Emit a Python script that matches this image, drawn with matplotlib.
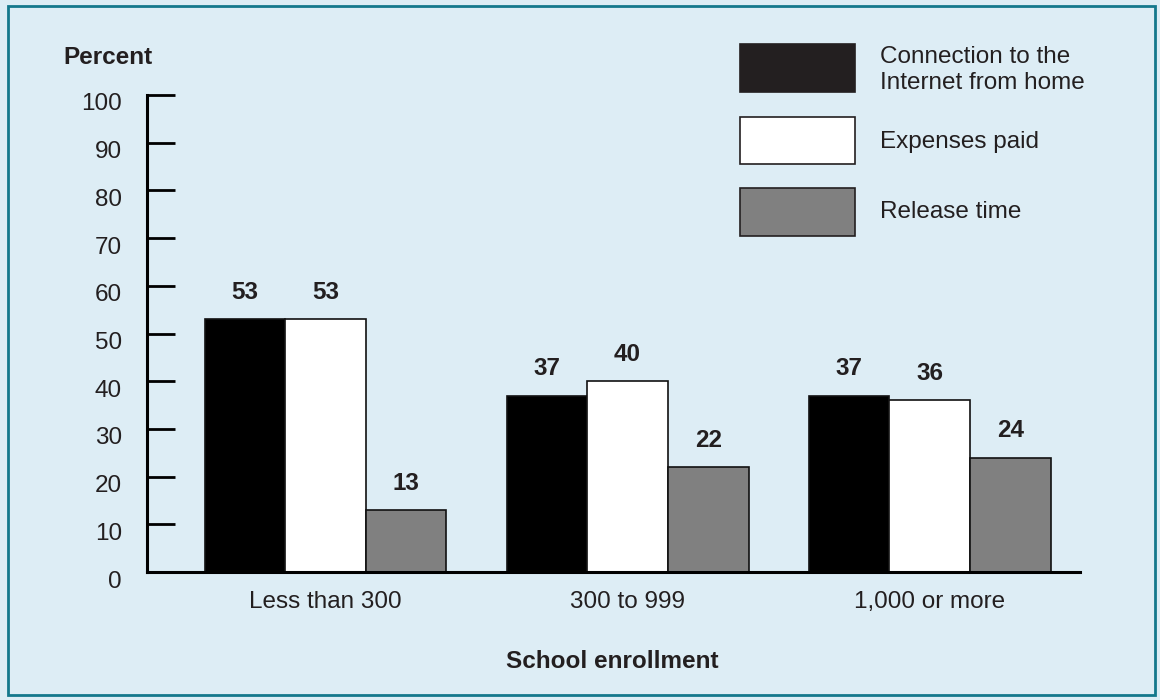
import matplotlib
matplotlib.use("Agg")
import matplotlib.pyplot as plt
import matplotlib.transforms as mtransforms
from matplotlib.patches import Rectangle
import numpy as np

plt.rcParams["font.family"] = ["Liberation Sans", "DejaVu Sans"]

categories = ["Less than 300", "300 to 999", "1,000 or more"]
series_names = ["Connection to the\nInternet from home", "Expenses paid", "Release time"]
internet_home = [53, 37, 37]
expenses_paid = [53, 40, 36]
release_time = [13, 22, 24]
y_ticks = [0, 10, 20, 30, 40, 50, 60, 70, 80, 90, 100]

bg = "#DDEDF5"
border = "#14788C"
text_col = "#231F20"
fills = ["#000000", "#FFFFFF", "#808080"]
legend_fills = ["#231F20", "#FFFFFF", "#808080"]

fig = plt.figure(figsize=(11.6, 7.0), dpi=100)
fig.patch.set_facecolor(bg)

W, H = 1160, 700
def fx(px):
    return px / W
def fy(py):
    return 1 - py / H

# outer frame
fig.add_artist(Rectangle((fx(8), fy(695)), fx(1155) - fx(8), fy(6) - fy(695),
                         transform=fig.transFigure, fill=False,
                         edgecolor=border, linewidth=2.0))

ax = fig.add_axes([fx(147), fy(572), fx(1080) - fx(147), fy(95) - fy(572)])
ax.set_facecolor("none")

x = np.arange(len(categories))
w = 0.267
series = [internet_home, expenses_paid, release_time]
for i, vals in enumerate(series):
    pos = x + (i - 1) * w
    ax.bar(pos, vals, width=w, color=fills[i], edgecolor="#111111", linewidth=1.2, zorder=2)
    for px_, v in zip(pos, vals):
        ax.annotate(str(v), (px_, v), xytext=(0, 11), textcoords="offset points",
                    ha="center", va="bottom", fontsize=17.5, fontweight="bold",
                    color=text_col)

ax.set_xlim(-0.591, 2.498)
ax.set_ylim(0, 100)
ax.set_yticks(y_ticks)
ax.set_yticklabels([str(t) for t in y_ticks])
ax.set_xticks(x)
ax.set_xticklabels(categories)

for s in ["top", "right"]:
    ax.spines[s].set_visible(False)
ax.spines["left"].set_linewidth(2.2)
ax.spines["bottom"].set_linewidth(2.2)
ax.spines["left"].set_color("#000000")
ax.spines["bottom"].set_color("#000000")

ax.tick_params(axis="y", direction="in", length=20, width=2.0, pad=18,
               labelsize=17.5, labelcolor=text_col, color="#000000")
ax.tick_params(axis="x", length=0, pad=14, labelsize=17.5, labelcolor=text_col)

offset = mtransforms.ScaledTranslation(0, -7 / 100, fig.dpi_scale_trans)
for lbl in ax.get_yticklabels():
    lbl.set_transform(lbl.get_transform() + offset)

fig.text(fx(108), fy(57), "Percent", ha="center", va="center", fontsize=17.5,
         fontweight="bold", color=text_col)
fig.text(fx(612), fy(662), "School enrollment", ha="center", va="center",
         fontsize=17.5, fontweight="bold", color=text_col)

# legend keys
legend_boxes = [(44, 92), (117, 164), (188, 236)]
legend_text_y = [70, 142, 212]
for (top, bot), fc, name, ty in zip(legend_boxes, legend_fills, series_names, legend_text_y):
    fig.add_artist(Rectangle((fx(740), fy(bot)), fx(855) - fx(740), fy(top) - fy(bot),
                             transform=fig.transFigure, facecolor=fc,
                             edgecolor="#231F20", linewidth=1.2))
    fig.text(fx(880), fy(ty), name, ha="left", va="center", fontsize=17.5,
             color=text_col, linespacing=1.2)

fig.savefig("out.png", dpi=100, facecolor=bg)
